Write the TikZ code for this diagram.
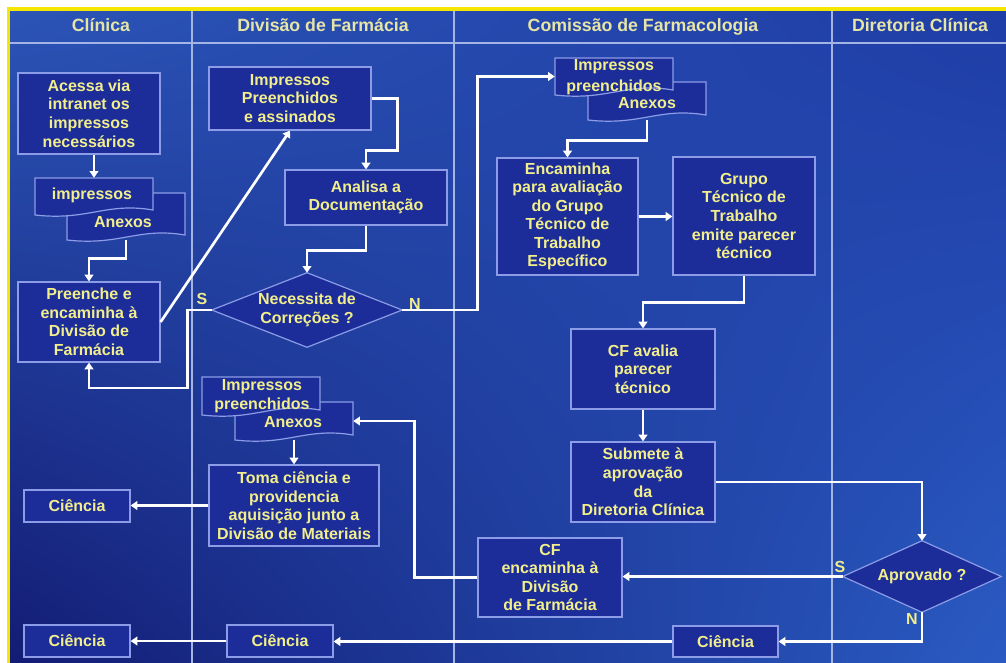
\documentclass[tikz,border=0pt]{standalone}
\usepackage{fontspec}
\setmainfont{Liberation Sans}
\usetikzlibrary{arrows.meta,fit,fadings,shadings}
\definecolor{ylw}{HTML}{F2EE8C}
\definecolor{hdrylw}{HTML}{E6E4A6}
\definecolor{boxfill}{HTML}{1C2D9A}
\definecolor{boxline}{HTML}{8C9CE6}
\definecolor{divline}{HTML}{A4B4E4}
\definecolor{bgUL}{HTML}{2B54B6}
\definecolor{bgUR}{HTML}{1F3DA6}
\definecolor{bgLL}{HTML}{131C74}
\definecolor{bgLR}{HTML}{2A5BC2}
\definecolor{bandc}{HTML}{4A7ED6}
\definecolor{brdylw}{HTML}{F5E600}
\tikzfading[name=diagband, top color=transparent!100, middle color=transparent!55, bottom color=transparent!100]
\newcommand{\docpath}[4]{%
  \pgfmathsetmacro{\docxa}{#3-0.4*(#3-#1)}%
  \pgfmathsetmacro{\docxb}{#1+0.45*(#3-#1)}%
  \pgfmathsetmacro{\docyr}{#4-5}%
  \pgfmathsetmacro{\docyu}{#4-13}%
  \pgfmathsetmacro{\docyd}{#4+6}%
  \draw[docst] (#1,#2) -- (#3,#2) -- (#3,\docyr) .. controls (\docxa,\docyu) and (\docxb,\docyd) .. (#1,#4) -- cycle;}
% name, x0, y0, x1, y1, text
\newcommand{\pbox}[6]{%
  \node[box, minimum width={(#4-#2)*0.75pt}, minimum height={(#5-#3)*0.75pt}] (#1) at ({(#2+#4)/2},{(#3+#5)/2}) {#6};}
\begin{document}
\begin{tikzpicture}[x=0.75pt,y=-0.75pt,
  txtfont/.style={font=\bfseries\fontsize{12}{13.9}\selectfont},
  box/.style={draw=boxline, fill=boxfill, line width=0.9pt, inner sep=0pt, text=ylw, txtfont, align=center},
  docst/.style={draw=boxline, fill=boxfill, line width=0.9pt},
  txt/.style={text=ylw, txtfont, align=center, inner sep=0pt},
  anchorbox/.style={inner sep=0pt},
  hdr/.style={text=hdrylw, font=\bfseries\fontsize{13.3}{15}\selectfont, inner sep=0pt, anchor=base},
  divl/.style={draw=divline, line width=0.8pt},
  arr/.style={draw=white, line width=2pt, -{Triangle[width=6.5pt,length=5pt]}}]
\useasboundingbox (0,0) rectangle (1006,663);
\fill[white] (0,0) rectangle (1006,663);
% background
\shade[upper left=bgUL, upper right=bgUR, lower left=bgLL, lower right=bgLR] (10,11) rectangle (1006,663);
\fill[bandc, path fading=diagband, fading angle=50] (10,11) rectangle (1006,663);
\fill[brdylw] (7,7) rectangle (1006,11);
\fill[brdylw] (7,7) rectangle (10,663);
% lanes
\draw[divl] (10,43) -- (1006,43);
\draw[divl] (192,11) -- (192,663);
\draw[divl] (454,11) -- (454,663);
\draw[divl] (832,11) -- (832,663);
\node[hdr] (h1) at (101,32) {Clínica};
\node[hdr] (h2) at (323,32) {Divisão de Farmácia};
\node[hdr] (h3) at (643,32) {Comissão de Farmacologia};
\node[hdr] (h4) at (920,32) {Diretoria Clínica};
% boxes
\pbox{acessa}{18}{73}{160}{154}{Acessa via\\intranet os\\impressos\\necessários}
\pbox{preenche}{18}{282}{160}{362}{Preenche e\\encaminha à\\Divisão de\\Farmácia}
\pbox{imppa}{209}{67}{371}{130}{Impressos\\Preenchidos\\e assinados}
\pbox{analisa}{285}{170}{447}{225}{Analisa a\\Documentação}
\pbox{toma}{209}{465}{379}{546}{Toma ciência e\\providencia\\aquisição junto a\\Divisão de Materiais}
\pbox{enc}{497}{158}{638}{275}{Encaminha\\para avaliação\\do Grupo\\Técnico de\\Trabalho\\Específico}
\pbox{grupo}{673}{157}{815}{275}{Grupo\\Técnico de\\Trabalho\\emite parecer\\técnico}
\pbox{cfav}{571}{329}{715}{409}{CF avalia\\parecer\\técnico}
\pbox{subm}{571}{442}{715}{522}{Submete à\\aprovação\\da\\Diretoria Clínica}
\pbox{cfenc}{478}{538}{622}{617}{CF\\encaminha à\\Divisão\\de Farmácia}
\pbox{cien1}{24}{490}{130}{522}{Ciência}
\pbox{cien2}{24}{625}{130}{657}{Ciência}
\pbox{cien3}{227}{625}{333}{657}{Ciência}
\pbox{cien4}{673}{626}{778}{657}{Ciência}
% documents
\docpath{67}{193}{185}{240}
\docpath{35}{178}{153}{215}
\node[anchorbox, fit={(67,193) (185,240)}] (anx1) {};
\node[anchorbox, fit={(35,178) (153,215)}] (imp1) {};
\node[txt] (imp1t) at (92,195) {impressos};
\node[txt] (anx1t) at (123,222) {Anexos};
\docpath{588}{82}{706}{120}
\docpath{555}{58}{673}{95}
\node[anchorbox, fit={(588,82) (706,120)}] (anx2) {};
\node[anchorbox, fit={(555,58) (673,95)}] (imp2) {};
\node[txt] (imp2t) at (614,67) {Impressos};
\node[txt] (imp2u) at (614,87) {preenchidos};
\node[txt] (anx2t) at (647,103) {Anexos};
\docpath{235}{402}{353}{440}
\docpath{202}{377}{320}{415}
\node[anchorbox, fit={(235,402) (353,440)}] (anx3) {};
\node[anchorbox, fit={(202,377) (320,415)}] (imp3) {};
\node[txt] (imp3t) at (262,387) {Impressos};
\node[txt] (imp3u) at (262,405) {preenchidos};
\node[txt] (anx3t) at (293,422) {Anexos};
% diamonds
\node[anchorbox, fit={(212,273) (402,347)}] (nec) {};
\draw[docst] (nec.north) -- (nec.east) -- (nec.south) -- (nec.west) -- cycle;
\node[txt] (nect) at (nec.center) {Necessita de\\Correções ?};
\node[anchorbox, fit={(843,541) (1001,612)}] (apr) {};
\draw[docst] (apr.north) -- (apr.east) -- (apr.south) -- (apr.west) -- cycle;
\node[txt] (aprt) at (apr.center) {Aprovado ?};
% labels
\node[txt] (s1) at (202,299) {S};
\node[txt] (n1) at (415,304) {N};
\node[txt] (s2) at (840,567) {S};
\node[txt] (n2) at (912,619) {N};
% connectors
\draw[arr] (imp1.north |- acessa.south) -- (imp1.north);
\draw[arr] (anx1.south) -- ++(0,18) -| (preenche.north);
\draw[arr] (preenche.east) -- (imppa.south);
\draw[arr] (imppa.east) -- ++(26,0) -- ++(0,52) -| (analisa.north);
\draw[arr] (analisa.south) -- ++(0,25) -| (nec.north);
\draw[arr] (nec.west) -- ++(-24,0) -- ++(0,78) -| (preenche.south);
\draw[arr] (nec.east) -- ++(75,0) |- (imp2.west);
\draw[arr] (anx2.south) -- ++(0,20) -| (enc.north);
\draw[arr] (enc.east) -- (enc.east -| grupo.west);
\draw[arr] (grupo.south) -- ++(0,27) -| (cfav.north);
\draw[arr] (cfav.south) -- (subm.north);
\draw[arr] (subm.east) -| (apr.north);
\draw[arr] (apr.west) -- (apr.west -| cfenc.east);
\draw[arr] (cfenc.west) -- ++(-63,0) |- (anx3.east);
\draw[arr] (anx3.south) -- (toma.north);
\draw[arr] (toma.west) -- (toma.west -| cien1.east);
\draw[arr] (apr.south) |- (cien4.east);
\draw[arr] (cien4.west) -- (cien4.west -| cien3.east);
\draw[arr] (cien3.west) -- (cien3.west -| cien2.east);
\end{tikzpicture}
\end{document}
